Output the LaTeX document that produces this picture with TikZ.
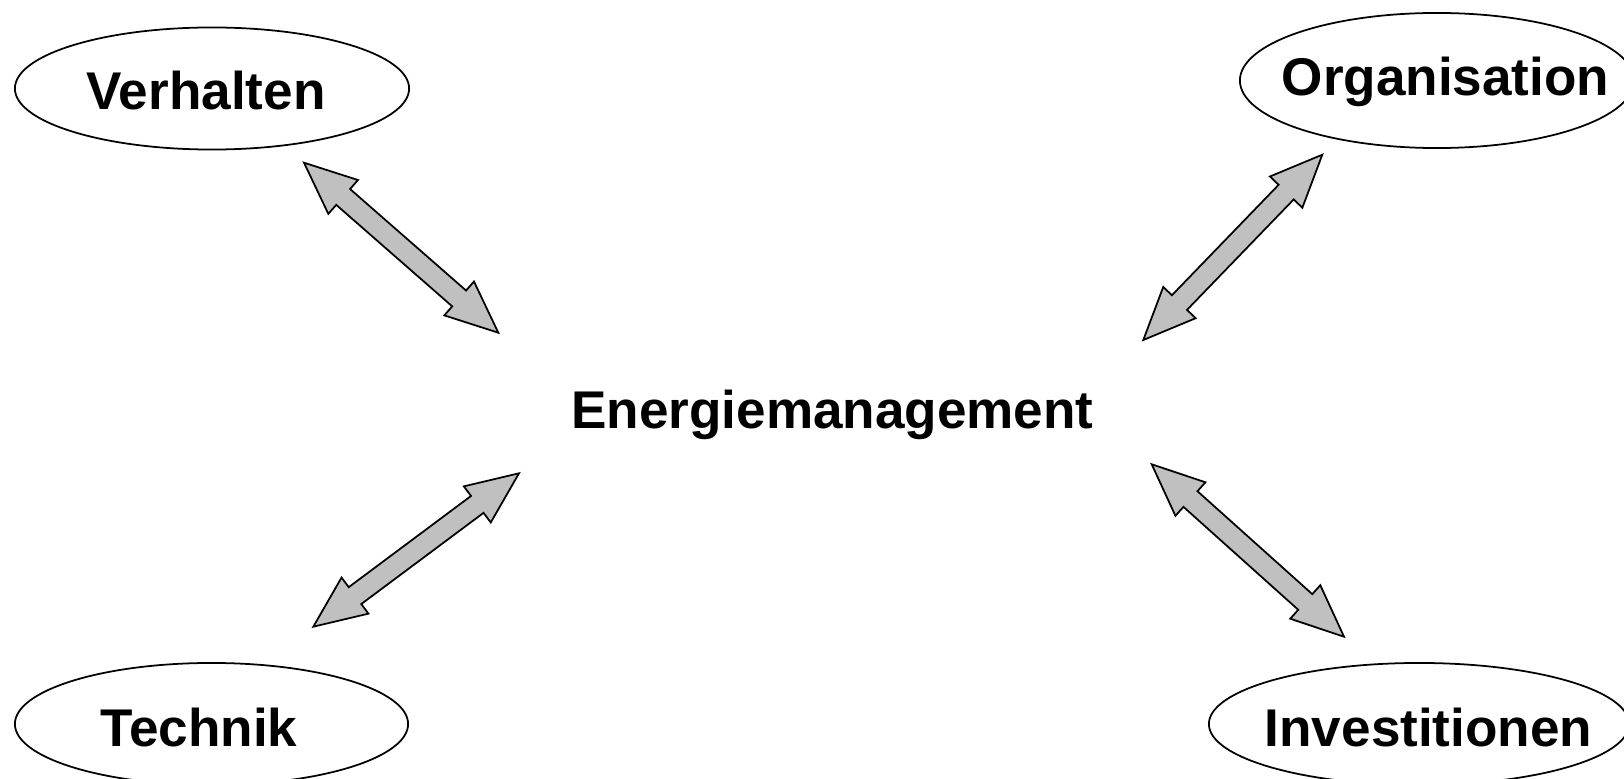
\documentclass[tikz,border=0pt]{standalone}
\usepackage{fontspec}
\setmainfont{Liberation Sans}
\usetikzlibrary{shapes.geometric,calc}
\definecolor{arrowgrey}{HTML}{C0C0C0}
% Masse der Doppelpfeile
\newcommand{\headlen}{0.52cm}
\newcommand{\headw}{0.225cm}
\newcommand{\shaftw}{0.105cm}
% Doppelpfeil zwischen zwei Koordinaten
\newcommand{\dblarrow}[2]{%
  \draw[blockarrow] (#1)
    -- ($(#1)!\headlen!(#2)!\headw!90:(#2)$)
    -- ($(#1)!\headlen!(#2)!\shaftw!90:(#2)$)
    -- ($(#2)!\headlen!(#1)!\shaftw!-90:(#1)$)
    -- ($(#2)!\headlen!(#1)!\headw!-90:(#1)$)
    -- (#2)
    -- ($(#2)!\headlen!(#1)!\headw!90:(#1)$)
    -- ($(#2)!\headlen!(#1)!\shaftw!90:(#1)$)
    -- ($(#1)!\headlen!(#2)!\shaftw!-90:(#2)$)
    -- ($(#1)!\headlen!(#2)!\headw!-90:(#2)$)
    -- cycle;}
\begin{document}
\begin{tikzpicture}[x=0.01cm, y=-0.01cm,
    bubble/.style={draw, ellipse, line width=0.5pt, inner sep=0pt, minimum height=1.22cm},
    fieldtext/.style={inner sep=0pt, text height=0.38cm, text depth=0pt,
      font=\fontsize{15.1pt}{18pt}\selectfont\bfseries},
    blockarrow/.style={draw, fill=arrowgrey, line width=0.5pt, line join=miter}]
  \useasboundingbox (0,0) rectangle (1624,779);
  \clip (0,0) rectangle (1624,779);
  % Ellipsen
  \node[bubble, minimum width=3.94cm] (verhalten) at (212,88.5) {};
  \node[bubble, minimum width=3.94cm, minimum height=1.35cm] (organisation) at (1437,80.5) {};
  \node[bubble, minimum width=3.93cm] (technik) at (211.5,724) {};
  \node[bubble, minimum width=4.2cm] (investitionen) at (1419,724) {};
  % Beschriftungen
  \node[fieldtext] (verhalten-txt) at (206,90) {Verhalten};
  \node[fieldtext] (organisation-txt) at (1445.5,76) {Organisation};
  \node[fieldtext] (technik-txt) at (199,727) {Technik};
  \node[fieldtext] (investitionen-txt) at (1428.5,727) {Investitionen};
  \node[fieldtext] (energie) at (832.5,409) {Energiemanagement};
  % Pfeilenden
  \coordinate (v1) at (304,162.7);    \coordinate (v2) at (498.3,332.7);
  \coordinate (o1) at (1322.3,154.7); \coordinate (o2) at (1143.3,340);
  \coordinate (t1) at (519,473.3);    \coordinate (t2) at (313.3,626.7);
  \coordinate (i1) at (1151.7,464.3); \coordinate (i2) at (1344,636.7);
  \dblarrow{v1}{v2}
  \dblarrow{o1}{o2}
  \dblarrow{t1}{t2}
  \dblarrow{i1}{i2}
\end{tikzpicture}
\end{document}
